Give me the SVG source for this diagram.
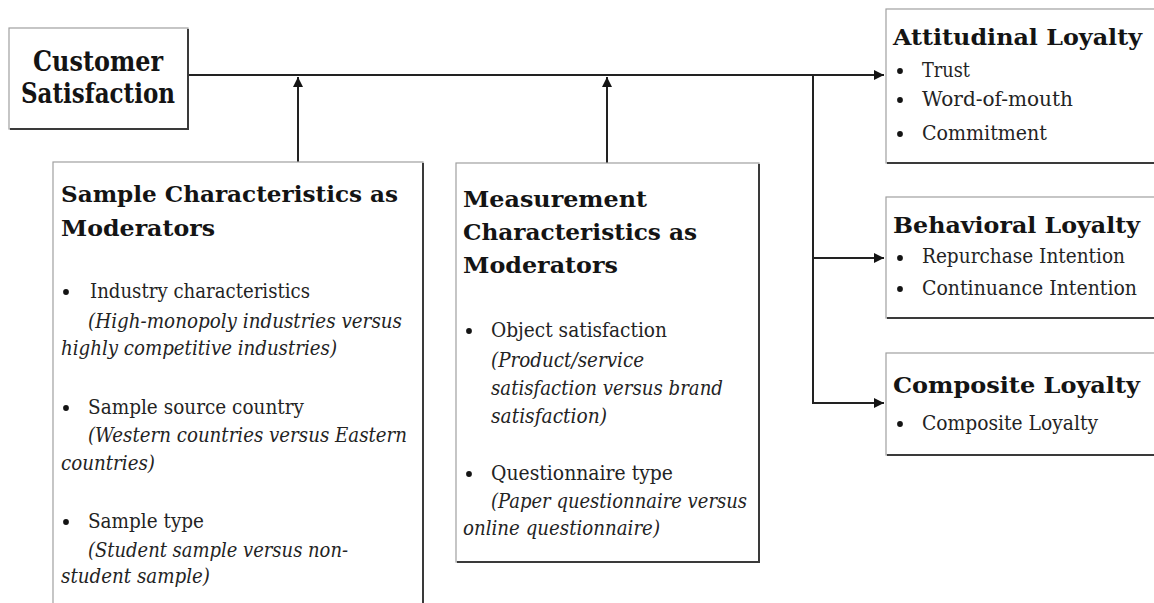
<svg xmlns="http://www.w3.org/2000/svg" width="1154" height="603" viewBox="0 0 1154 603">
  <style>
    .box { fill: #ffffff; stroke: #a0a0a0; stroke-width: 1.2; }
    .shade { fill: none; stroke: #3a3a3a; stroke-width: 2; }
    .ttl { font-family: "DejaVu Serif", "Liberation Serif", serif; font-weight: bold; font-size: 23px; fill: #141414; }
    .big { font-family: "DejaVu Serif", "Liberation Serif", serif; font-weight: bold; font-size: 27px; fill: #141414; }
    .txt { font-family: "DejaVu Serif", "Liberation Serif", serif; font-size: 19.5px; fill: #232323; }
    .it { font-family: "DejaVu Serif", "Liberation Serif", serif; font-style: italic; font-size: 19.5px; fill: #232323; }
    .dot { fill: #141414; }
    .link { fill: none; stroke: #222222; stroke-width: 2; }
  </style>
  <defs>
    <marker id="tip" viewBox="0 0 10 10" refX="10" refY="5" markerWidth="6" markerHeight="5" orient="auto" markerUnits="strokeWidth">
      <path d="M0,0 L10,5 L0,10 Z" fill="#141414"/>
    </marker>
  </defs>
  <rect width="1154" height="603" fill="#ffffff"/>

  <!-- connectors -->
  <g id="connectors">
    <path class="link" d="M188,75 H884" marker-end="url(#tip)"/>
    <path class="link" d="M298,163 V77" marker-end="url(#tip)"/>
    <path class="link" d="M607,163 V77" marker-end="url(#tip)"/>
    <path class="link" d="M813,75 V403"/>
    <path class="link" d="M812,258 H884" marker-end="url(#tip)"/>
    <path class="link" d="M812,403 H884" marker-end="url(#tip)"/>
  </g>

  <!-- source construct -->
  <g id="customer-satisfaction">
    <rect class="box" x="9" y="28" width="179" height="101"/>
    <path class="shade" d="M188,29 V129 H10"/>
    <text class="big" x="98" y="71" text-anchor="middle" textLength="130" lengthAdjust="spacingAndGlyphs">Customer</text>
    <text class="big" x="98" y="103" text-anchor="middle" textLength="154" lengthAdjust="spacingAndGlyphs">Satisfaction</text>
  </g>

  <!-- sample moderators -->
  <g id="sample-moderators">
    <rect class="box" x="53" y="162" width="370" height="460"/>
    <path class="shade" d="M423,163 V610"/>
    <text class="ttl" x="61" y="202" textLength="337" lengthAdjust="spacingAndGlyphs">Sample Characteristics as</text>
    <text class="ttl" x="61" y="236" textLength="154" lengthAdjust="spacingAndGlyphs">Moderators</text>
    <circle class="dot" cx="66" cy="292" r="2.9"/>
    <text class="txt" x="90" y="298" textLength="220" lengthAdjust="spacingAndGlyphs">Industry characteristics</text>
    <text class="it" x="88" y="328" textLength="314" lengthAdjust="spacingAndGlyphs">(High-monopoly industries versus</text>
    <text class="it" x="61" y="355" textLength="276" lengthAdjust="spacingAndGlyphs">highly competitive industries)</text>
    <circle class="dot" cx="66" cy="408" r="2.9"/>
    <text class="txt" x="88" y="414" textLength="216" lengthAdjust="spacingAndGlyphs">Sample source country</text>
    <text class="it" x="88" y="442" textLength="319" lengthAdjust="spacingAndGlyphs">(Western countries versus Eastern</text>
    <text class="it" x="61" y="470" textLength="94" lengthAdjust="spacingAndGlyphs">countries)</text>
    <circle class="dot" cx="66" cy="522" r="2.9"/>
    <text class="txt" x="88" y="528" textLength="116" lengthAdjust="spacingAndGlyphs">Sample type</text>
    <text class="it" x="88" y="557" textLength="260" lengthAdjust="spacingAndGlyphs">(Student sample versus non-</text>
    <text class="it" x="61" y="583" textLength="149" lengthAdjust="spacingAndGlyphs">student sample)</text>
  </g>

  <!-- measurement moderators -->
  <g id="measurement-moderators">
    <rect class="box" x="456" y="163" width="303" height="399"/>
    <path class="shade" d="M759,164 V562 H457"/>
    <text class="ttl" x="463" y="207" textLength="184" lengthAdjust="spacingAndGlyphs">Measurement</text>
    <text class="ttl" x="463" y="240" textLength="234" lengthAdjust="spacingAndGlyphs">Characteristics as</text>
    <text class="ttl" x="463" y="273" textLength="155" lengthAdjust="spacingAndGlyphs">Moderators</text>
    <circle class="dot" cx="469" cy="331" r="2.9"/>
    <text class="txt" x="491" y="337" textLength="176" lengthAdjust="spacingAndGlyphs">Object satisfaction</text>
    <text class="it" x="491" y="367" textLength="153" lengthAdjust="spacingAndGlyphs">(Product/service</text>
    <text class="it" x="491" y="395" textLength="232" lengthAdjust="spacingAndGlyphs">satisfaction versus brand</text>
    <text class="it" x="491" y="423" textLength="116" lengthAdjust="spacingAndGlyphs">satisfaction)</text>
    <circle class="dot" cx="469" cy="474" r="2.9"/>
    <text class="txt" x="491" y="480" textLength="182" lengthAdjust="spacingAndGlyphs">Questionnaire type</text>
    <text class="it" x="491" y="508" textLength="256" lengthAdjust="spacingAndGlyphs">(Paper questionnaire versus</text>
    <text class="it" x="463" y="535" textLength="197" lengthAdjust="spacingAndGlyphs">online questionnaire)</text>
  </g>

  <!-- loyalty outcomes -->
  <g id="attitudinal-loyalty">
    <rect class="box" x="886" y="9" width="280" height="154"/>
    <path class="shade" d="M887,163 H1160"/>
    <text class="ttl" x="893" y="45" textLength="249" lengthAdjust="spacingAndGlyphs">Attitudinal Loyalty</text>
    <circle class="dot" cx="900" cy="71" r="2.9"/>
    <text class="txt" x="922" y="77" textLength="48" lengthAdjust="spacingAndGlyphs">Trust</text>
    <circle class="dot" cx="900" cy="100" r="2.9"/>
    <text class="txt" x="922" y="106" textLength="151" lengthAdjust="spacingAndGlyphs">Word-of-mouth</text>
    <circle class="dot" cx="900" cy="134" r="2.9"/>
    <text class="txt" x="922" y="140" textLength="125" lengthAdjust="spacingAndGlyphs">Commitment</text>
  </g>

  <g id="behavioral-loyalty">
    <rect class="box" x="886" y="197" width="280" height="121"/>
    <path class="shade" d="M887,318 H1160"/>
    <text class="ttl" x="893" y="233" textLength="247" lengthAdjust="spacingAndGlyphs">Behavioral Loyalty</text>
    <circle class="dot" cx="900" cy="258" r="2.9"/>
    <text class="txt" x="922" y="263" textLength="203" lengthAdjust="spacingAndGlyphs">Repurchase Intention</text>
    <circle class="dot" cx="900" cy="289" r="2.9"/>
    <text class="txt" x="922" y="295" textLength="215" lengthAdjust="spacingAndGlyphs">Continuance Intention</text>
  </g>

  <g id="composite-loyalty">
    <rect class="box" x="886" y="353" width="280" height="102"/>
    <path class="shade" d="M887,455 H1160"/>
    <text class="ttl" x="893" y="393" textLength="247" lengthAdjust="spacingAndGlyphs">Composite Loyalty</text>
    <circle class="dot" cx="900" cy="424" r="2.9"/>
    <text class="txt" x="922" y="430" textLength="176" lengthAdjust="spacingAndGlyphs">Composite Loyalty</text>
  </g>
</svg>
